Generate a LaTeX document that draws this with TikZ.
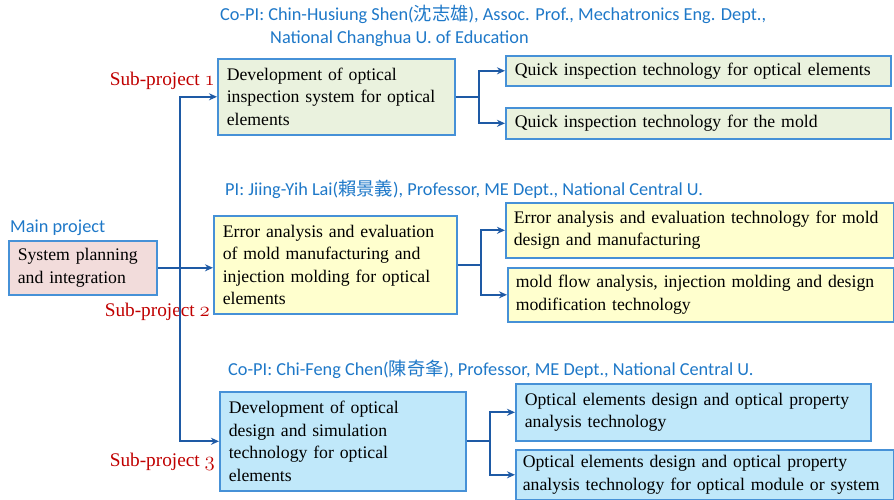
\documentclass[tikz,border=0pt]{standalone}
\usepackage{fontspec}
\setmainfont{Liberation Serif}
\newfontfamily\calfont{Carlito}
\newfontfamily\cjk{Noto Sans CJK TC}
\usetikzlibrary{arrows.meta,positioning}

\definecolor{frameblue}{RGB}{70,145,215}
\definecolor{linkblue}{RGB}{30,90,165}
\definecolor{noteblue}{RGB}{30,120,200}
\definecolor{subred}{RGB}{192,0,0}
\definecolor{pinkfill}{RGB}{242,220,219}
\definecolor{greenfill}{RGB}{234,242,222}
\definecolor{yellowfill}{RGB}{255,255,206}
\definecolor{cyanfill}{RGB}{192,232,250}

\begin{document}
\begin{tikzpicture}[x=1pt,y=-1pt,
    every node/.style={inner sep=0pt},
    box/.style={draw=frameblue, line width=1.6pt, anchor=north west, align=left,
        inner xsep=9pt, font=\fontsize{17.7}{22.5}\selectfont},
    note/.style={anchor=base west, text=noteblue, font=\calfont\fontsize{18.3}{20}\selectfont},
    sublabel/.style={anchor=base east, text=subred, font=\fontsize{19.3}{22}\selectfont},
    link/.style={draw=linkblue, line width=2.2pt, -{Stealth[length=8pt,width=7pt]}},
    trunk/.style={draw=linkblue, line width=2.2pt}]
        \useasboundingbox (0,0) rectangle (894,500);

        \coordinate (spine) at (180,0);
        \coordinate (fork1) at (479,0);
        \coordinate (fork2) at (481,0);
        \coordinate (fork3) at (490,0);

        \node[box, fill=pinkfill, text width=130pt, minimum height=54pt] (main) at (8,240)
            {System planning\\and integration};
        \node[box, fill=greenfill, text width=219pt, minimum height=76pt] (sub1) at (217,58)
            {Development of optical\\\mbox{inspection system for optical}\\elements};
        \node[box, fill=yellowfill, text width=225pt, minimum height=98pt] (sub2) at (213,215)
            {\mbox{Error analysis and evaluation}\\of mold manufacturing and\\\mbox{injection molding for optical}\\elements};
        \node[box, fill=cyanfill, text width=228pt, minimum height=99pt] (sub3) at (219,391)
            {Development of optical\\design and simulation\\technology for optical\\elements};

        \node[box, fill=greenfill, text width=367pt, minimum height=30pt] (quicka) at (505,55)
            {\mbox{Quick inspection technology for optical elements}};
        \node[box, fill=greenfill, text width=367pt, minimum height=31pt] (quickb) at (505,107)
            {Quick inspection technology for the mold};
        \node[box, fill=yellowfill, text width=372pt, minimum height=55pt, inner xsep=8pt] (errora) at (505,202)
            {\mbox{Error analysis and evaluation technology for mold}\\design and manufacturing};
        \node[box, fill=yellowfill, text width=370pt, minimum height=54pt, inner xsep=8pt] (moldb) at (507,267)
            {\mbox{mold flow analysis, injection molding and design}\\modification technology};
        \node[box, fill=cyanfill, text width=337pt, minimum height=57pt] (designa) at (515,383)
            {\mbox{Optical elements design and optical property}\\analysis technology};
        \node[box, fill=cyanfill, text width=364pt, minimum height=50pt, inner xsep=7pt] (designb) at (515,449)
            {\mbox{Optical elements design and optical property}\\\mbox{analysis technology for optical module or system}};

        \node[note] (mainnote) at (10,232) {Main project};
        \node[note] (copi1) at (220,21) {Co-PI: Chin-Husiung Shen({\cjk 沈志雄}), Assoc. Prof., Mechatronics Eng. Dept.,};
        \node[note] (copi1b) at (270,44) {National Changhua U. of Education};
        \node[note] (pi2) at (225,195) {PI: Jiing-Yih Lai({\cjk 賴景義}), Professor, ME Dept., National Central U.};
        \node[note] (copi3) at (228,375) {Co-PI: Chi-Feng Chen({\cjk 陳奇夆}), Professor, ME Dept., National Central U.};

        \node[sublabel] (lab1) at (215,86) {Sub-project $\mathnormal{1}$};
        \node[sublabel] (lab2) at (210,316) {Sub-project $\mathnormal{2}$};
        \node[sublabel] (lab3) at (215,466) {Sub-project $\mathnormal{3}$};

        \draw[link] (main.east) -- (main.east -| sub2.west);
        \draw[link] (sub3.west -| spine) -- (sub1.west -| spine) -- (sub1.west);
        \draw[link] (sub1.west -| spine) -- (sub3.west -| spine) -- (sub3.west);

        \draw[trunk] (sub1.east) -- (sub1.east -| fork1);
        \draw[link] (sub1.east -| fork1) |- (quicka.west);
        \draw[link] (sub1.east -| fork1) |- (quickb.west);

        \draw[trunk] (sub2.east) -- (sub2.east -| fork2);
        \draw[link] (sub2.east -| fork2) |- (errora.west);
        \draw[link] (sub2.east -| fork2) |- (moldb.west);

        \draw[trunk] (sub3.east) -- (sub3.east -| fork3);
        \draw[link] (sub3.east -| fork3) |- (designa.west);
        \draw[link] (sub3.east -| fork3) |- (designb.west);
    \end{tikzpicture}
\end{document}
